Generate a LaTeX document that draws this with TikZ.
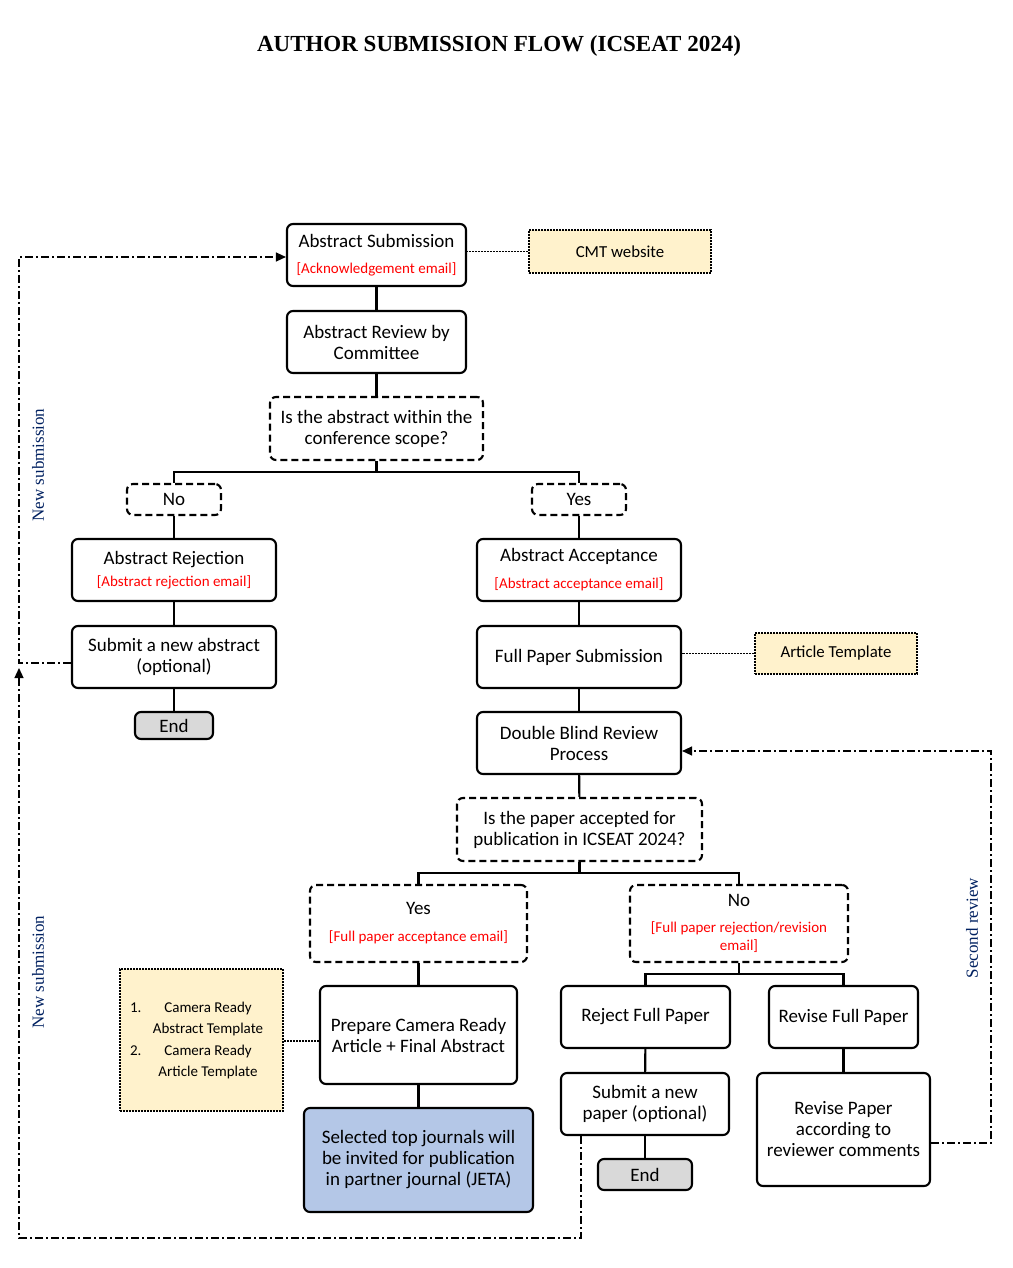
\documentclass[tikz,border=0pt]{standalone}
\usepackage{fontspec}
\setmainfont{Carlito}
\newfontfamily\serifont{Liberation Serif}
\usepackage{array}
\usetikzlibrary{arrows.meta}
\definecolor{noteyellow}{HTML}{FFF2CC}
\definecolor{endgray}{HTML}{D9D9D9}
\definecolor{jblue}{HTML}{B4C7E7}
\definecolor{navy}{RGB}{0,32,96}
\newcommand\mainsz{\fontsize{19}{21}\selectfont}
\newcommand\notesz{\fontsize{16.8}{20}\selectfont}
\newcommand\redtxt[1]{{\fontsize{15}{17}\selectfont\color{red}#1}}
\begin{document}
\begin{tikzpicture}[x=1pt,y=-1pt,
  box/.style={draw, line width=2.1pt, rounded corners=6pt, align=center, inner sep=0pt, font=\mainsz},
  qbox/.style={box, dash pattern=on 7pt off 4pt},
  note/.style={draw, fill=noteyellow, line width=1.8pt, dash pattern=on 2pt off 1pt, inner sep=0pt, align=center, font=\notesz},
  endbox/.style={box, fill=endgray},
  link/.style={line width=2.1pt},
  dotlink/.style={line width=1.8pt, dash pattern=on 2pt off 1pt},
  looplink/.style={line width=1.2pt, dash pattern=on 8pt off 3pt on 2pt off 3pt},
  tip/.style={-{Triangle[length=10pt,width=9pt]}},
  side/.style={font=\serifont\fontsize{17}{20}\selectfont, text=navy, rotate=90, inner sep=0pt}
]
\useasboundingbox (0,0) rectangle (1012,1268);

\node[font=\serifont\bfseries\fontsize{23}{26}\selectfont, inner sep=0pt] (title) at (499,46) {AUTHOR SUBMISSION FLOW (ICSEAT 2024)};

\node[box, minimum width=179pt, minimum height=62pt] (as) at (376.5,255) {Abstract Submission\\[5pt]\redtxt{[Acknowledgement email]}};
\node[note, minimum width=182pt, minimum height=43pt] (cmt) at (620,251.5) {CMT website};
\node[box, minimum width=179pt, minimum height=62pt] (ar) at (376.5,342) {Abstract Review by\\Committee};
\node[qbox, minimum width=213pt, minimum height=63pt] (q1) at (376.5,428.5) {Is the abstract within the\\conference scope?};
\node[qbox, minimum width=94pt, minimum height=31pt] (no1) at (174,499.5) {No};
\node[qbox, minimum width=94pt, minimum height=31pt] (yes1) at (579,499.5) {Yes};
\node[box, minimum width=204pt, minimum height=62pt] (arj) at (174,570) {Abstract Rejection\\[1pt]\redtxt{[Abstract rejection email]}};
\node[box, minimum width=204pt, minimum height=62pt] (sna) at (174,657) {Submit a new abstract\\(optional)};
\node[endbox, minimum width=78pt, minimum height=27pt] (end1) at (174,725.5) {End};
\node[box, minimum width=204pt, minimum height=62pt] (aac) at (579,570) {Abstract Acceptance\\[6pt]\redtxt{[Abstract acceptance email]}};
\node[box, minimum width=204pt, minimum height=62pt] (fps) at (579,657) {Full Paper Submission};
\node[note, minimum width=162pt, minimum height=41pt] (tmpl) at (836,653.5) {Article Template};
\node[box, minimum width=204pt, minimum height=62pt] (dbr) at (579,743) {Double Blind Review\\Process};
\node[qbox, minimum width=245pt, minimum height=63pt] (q2) at (579.5,829.5) {Is the paper accepted for\\publication in ICSEAT 2024?};
\node[qbox, minimum width=217pt, minimum height=77pt] (y2) at (418.5,923.5) {Yes\\[6pt]\redtxt{[Full paper acceptance email]}};
\node[qbox, minimum width=218pt, minimum height=77pt] (n2) at (739,923.5) {No\\[5pt]\redtxt{[Full paper rejection/revision}\\[-3pt]\redtxt{email]}};
\node[box, minimum width=169pt, minimum height=62pt] (rfp) at (645.5,1017) {Reject Full Paper};
\node[box, minimum width=149pt, minimum height=62pt] (rvf) at (843.5,1017) {Revise Full Paper};
\node[box, minimum width=168pt, minimum height=62pt] (snp) at (645,1104) {Submit a new\\paper (optional)};
\node[endbox, minimum width=94pt, minimum height=31pt] (end2) at (645,1174.5) {End};
\node[box, minimum width=173pt, minimum height=113pt] (rpc) at (843.5,1129.5) {Revise Paper\\according to\\reviewer comments};
\node[box, minimum width=197pt, minimum height=98pt] (pc) at (418.5,1035) {Prepare Camera Ready\\Article + Final Abstract};
\node[note, minimum width=163pt, minimum height=142pt, font=\fontsize{15}{18}\selectfont] (lst) at (201.5,1040) {\def\arraystretch{1.19}\begin{tabular}{@{}p{20pt}@{}>{\centering\arraybackslash}p{116pt}@{}}
1. & Camera Ready\\
 & Abstract Template\\
2. & Camera Ready\\
 & Article Template
\end{tabular}\hspace*{7pt}};
\node[box, fill=jblue, minimum width=229pt, minimum height=104pt] (sj) at (418.5,1160) {Selected top journals will\\be invited for publication\\in partner journal (JETA)};

% solid connectors
\draw[link] (as) -- (ar);
\draw[link] (ar) -- (q1);
\coordinate (j1) at (376.5,472);
\draw[link] (q1) -- (j1) -| (no1);
\draw[link] (j1) -| (yes1);
\draw[link] (no1) -- (arj);
\draw[link] (arj) -- (sna);
\draw[link] (sna) -- (end1);
\draw[link] (yes1) -- (aac);
\draw[link] (aac) -- (fps);
\draw[link] (fps) -- (dbr);
\draw[link] (dbr) -- (q2);
\coordinate (j2) at (579.5,873);
\draw[link] (q2) -- (j2) -| (y2);
\draw[link] (j2) -| (n2);
\draw[link] (y2) -- (pc);
\draw[link] (pc) -- (sj);
\coordinate (j3) at (739,974);
\draw[link] (n2) -- (j3) -| (rfp);
\draw[link] (j3) -| (rvf);
\draw[link] (rfp) -- (snp);
\draw[link] (snp) -- (end2);
\draw[link] (rvf) -- (rpc);

% dotted note links
\draw[dotlink] (cmt.west) -- (cmt.west -| as.east);
\draw[dotlink] (tmpl.west) -- (tmpl.west -| fps.east);
\draw[dotlink] ([yshift=-6pt]pc.west) -- ([yshift=-6pt]pc.west -| lst.east);

% dash-dot loops
\coordinate (l1) at (19,663);
\coordinate (l2) at (19,257);
\draw[looplink, tip] ([yshift=-6pt]sna.west) -- (l1) -- (l2) -- ([yshift=-2pt]as.west);
\coordinate (b1) at (581,1238);
\coordinate (b2) at (19,1238);
\coordinate (b3) at (19,668);
\draw[looplink, tip] ([xshift=-64pt]snp.south) -- (b1) -- (b2) -- (b3);
\coordinate (r1) at (991,1143);
\coordinate (r2) at (991,751);
\draw[looplink, tip] ([yshift=-13.5pt]rpc.east) -- (r1) -- (r2) -- ([yshift=-8pt]dbr.east);

% side labels
\node[side] (ns1) at (38,465) {New submission};
\node[side] (ns2) at (38,972) {New submission};
\node[side] (sr) at (972,928) {Second review};
\end{tikzpicture}
\end{document}
